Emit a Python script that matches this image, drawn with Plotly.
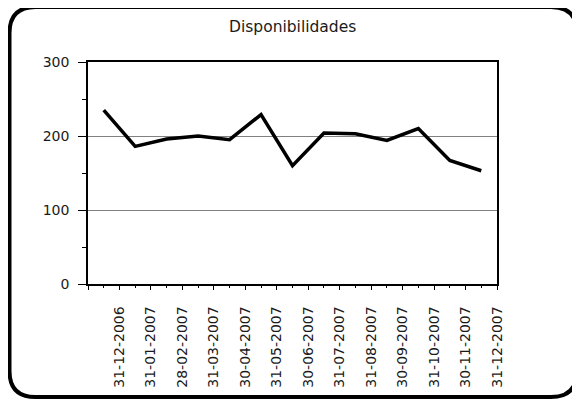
import numpy as np
import plotly.graph_objects as go

title = "Disponibilidades"
dates = ["31-12-2006", "31-01-2007", "28-02-2007", "31-03-2007", "30-04-2007",
         "31-05-2007", "30-06-2007", "31-07-2007", "31-08-2007", "30-09-2007",
         "31-10-2007", "30-11-2007", "31-12-2007"]
values = [235, 186, 196, 200, 195, 229, 160, 204, 203, 194, 210, 167, 153]
y_ticks = [0, 100, 200, 300]

# the page body has an 8px margin; shift the figure geometry to compensate
OFF = 8
W, H = 580 - OFF, 400 - OFF
L, R, T, B = 88 - OFF, 83, 62 - OFF, 116
pw, ph = W - L - R, H - T - B

def px2paper(x, y):
    # x, y are screen pixels in the 580x400 window
    x -= OFF
    y -= OFF
    return (x - L) / pw, (H - B - y) / ph

n = len(values)
idx = np.arange(n)

fig = go.Figure()
fig.add_trace(go.Scatter(x=idx, y=values, mode="lines",
                         line=dict(color="black", width=3.5), showlegend=False))

# rounded outer frame (pixel geometry converted to paper coords)
x0, y0, x1, y1, r = 9.5, 7, 577, 397, 26
def P(x, y):
    a, b = px2paper(x, y)
    return f"{a:.5f},{b:.5f}"
path = (f"M {P(x0 + r, y0)} L {P(x1 - r, y0)} Q {P(x1, y0)} {P(x1, y0 + r)} "
        f"L {P(x1, y1 - r)} Q {P(x1, y1)} {P(x1 - r, y1)} "
        f"L {P(x0 + r, y1)} Q {P(x0, y1)} {P(x0, y1 - r)} "
        f"L {P(x0, y0 + r)} Q {P(x0, y0)} {P(x0 + r, y0)} Z")
fig.add_shape(type="path", path=path, xref="paper", yref="paper",
              line=dict(color="black", width=4), layer="above")

tx, ty = px2paper(292.5, 27.5)
fig.add_annotation(text=title, x=tx, y=ty, xref="paper", yref="paper",
                   showarrow=False, xanchor="center", yanchor="middle",
                   font=dict(family="DejaVu Sans", size=15.5, color="#1a1a1a"))

fig.update_layout(
    width=W, height=H,
    margin=dict(l=L, r=R, t=T, b=B, pad=0),
    paper_bgcolor="white", plot_bgcolor="white",
    font=dict(family="DejaVu Sans", size=14, color="#1a1a1a"),
    xaxis=dict(
        range=[-0.5, n - 0.5], showgrid=False, zeroline=False,
        showline=True, linecolor="black", linewidth=1.5, mirror=True,
        tickmode="array", tickvals=list(idx - 0.5) + [n - 0.5],
        ticktext=[""] + dates,
        ticks="outside", ticklen=4, tickwidth=1.2, tickcolor="black",
        tickangle=-90, ticklabelstandoff=11,
        minor=dict(tickmode="array", tickvals=list(idx), ticks="outside",
                   ticklen=2.5, tickwidth=1.2, tickcolor="black", showgrid=False),
    ),
    yaxis=dict(
        range=[0, 300], zeroline=False,
        showline=True, linecolor="black", linewidth=1.5, mirror=True,
        tickmode="array", tickvals=y_ticks,
        showgrid=True, gridcolor="#808080", gridwidth=1.2,
        ticks="outside", ticklen=8, tickwidth=1.2, tickcolor="black",
        ticklabelstandoff=6,
        minor=dict(dtick=50, tick0=0, ticks="outside", ticklen=4,
                   tickwidth=1.2, tickcolor="black", showgrid=False),
    ),
)

fig.write_html("out.html")
